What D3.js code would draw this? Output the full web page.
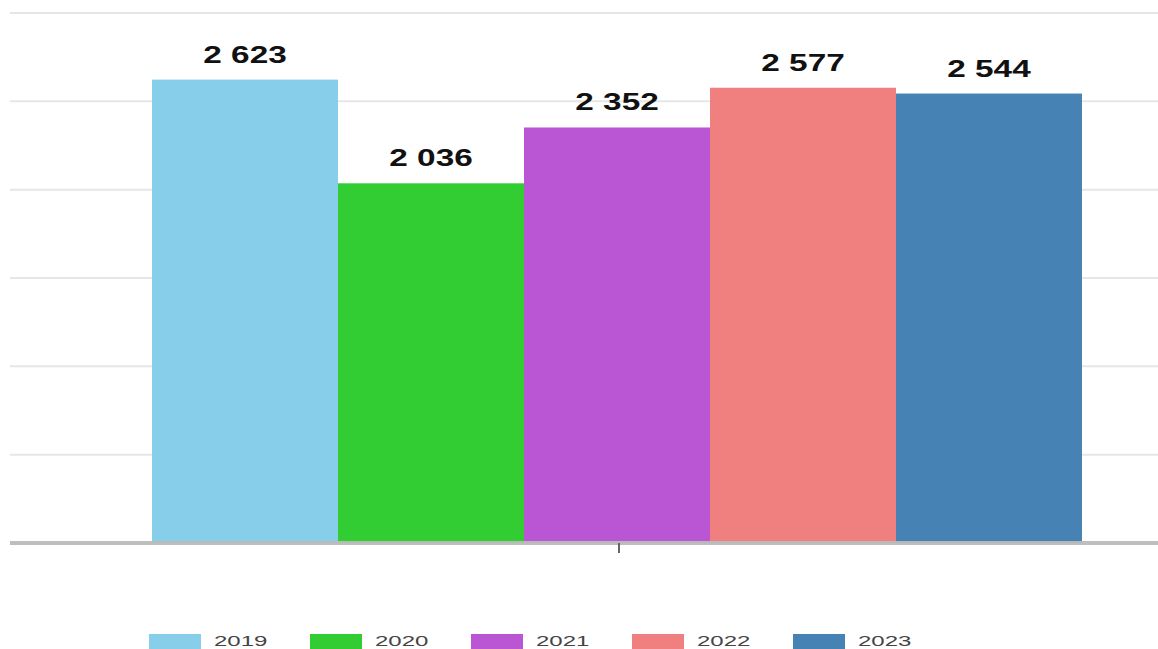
<!DOCTYPE html>
<html>
<head>
	<meta charset="UTF-8">
	<title>Values by year</title>
	<style>
		body {
			margin: 0;
			background: white;
			font-family: "Liberation Sans", Arial, sans-serif;
		}
		.grid line {
			stroke: #e6e6e6;
			stroke-width: 2;
		}
		.label {
			font-weight: bold;
			font-size: 23.5px;
			fill: #111;
		}
		.legend text {
			font-size: 15.5px;
			fill: #444;
		}
	</style>
</head>
<body>
<div id="chart"></div>

<script src="https://d3js.org/d3.v7.min.js"></script>
<script>

	// Data
	let years = ["2019", "2020", "2021", "2022", "2023"];
	let values = [2623, 2036, 2352, 2577, 2544];
	let colors = ["#87ceeb", "#32cd32", "#ba55d3", "#f08080", "#4682b4"];
	let yTicks = [0, 500, 1000, 1500, 2000, 2500, 3000];

	let width = 1158,
		height = 649;

	let svg = d3.select("#chart")
		.append("svg")
		.attr("width", width)
		.attr("height", height);

	// Scales
	let x0 = d3.scaleBand()
		.domain([""])
		.range([78, 1156])
		.paddingInner(0)
		.paddingOuter(0.0796);

	let x1 = d3.scaleBand()
		.domain(years)
		.range([0, x0.bandwidth()])
		.padding(0);

	let y = d3.scaleLinear()
		.domain([0, 3000])
		.range([543, 13]);

	let color = d3.scaleOrdinal(years, colors);

	let fmt = d3.formatLocale({decimal: ",", thousands: " ", grouping: [3], currency: ["", ""]}).format(",d");

	// Gridlines
	svg.append("g")
		.attr("class", "grid")
		.selectAll("line")
		.data(yTicks.filter(d => d > 0))
		.enter()
		.append("line")
		.attr("x1", 10)
		.attr("x2", width)
		.attr("y1", d => y(d))
		.attr("y2", d => y(d));

	let rows = years.map((d, i) => ({year: d, value: values[i]}));

	// Bars
	let group = svg.append("g")
		.attr("transform", "translate(" + x0("") + ",0)");

	group.selectAll("rect")
		.data(rows)
		.enter()
		.append("rect")
		.attr("x", d => x1(d.year))
		.attr("width", x1.bandwidth())
		.attr("y", d => y(d.value))
		.attr("height", d => y(0) - y(d.value))
		.attr("fill", d => color(d.year));

	// Value labels (picture is stretched sideways)
	group.selectAll("text.label")
		.data(rows)
		.enter()
		.append("text")
		.attr("class", "label")
		.attr("text-anchor", "middle")
		.attr("transform", d => "translate(" + (x1(d.year) + x1.bandwidth() / 2) + "," + (y(d.value) - 17) + ") scale(1.42,1)")
		.text(d => fmt(d.value));

	// X axis
	svg.append("line")
		.attr("x1", 10)
		.attr("x2", width)
		.attr("y1", y(0))
		.attr("y2", y(0))
		.attr("stroke", "#bbb")
		.attr("stroke-opacity", 0.95)
		.attr("stroke-width", 4);

	svg.append("line")
		.attr("x1", x0("") + x0.bandwidth() / 2 + 2)
		.attr("x2", x0("") + x0.bandwidth() / 2 + 2)
		.attr("y1", y(0))
		.attr("y2", y(0) + 10)
		.attr("stroke", "#666")
		.attr("stroke-width", 2);

	// Legend
	let legend = svg.append("g")
		.attr("class", "legend")
		.selectAll("g")
		.data(years)
		.enter()
		.append("g")
		.attr("transform", (d, i) => "translate(" + (149 + i * 161) + ",634)");

	legend.append("rect")
		.attr("width", 52)
		.attr("height", 18)
		.attr("fill", d => color(d));

	legend.append("text")
		.attr("transform", "translate(65,11.5) scale(1.55,1)")
		.text(d => d);

</script>
</body>
</html>
